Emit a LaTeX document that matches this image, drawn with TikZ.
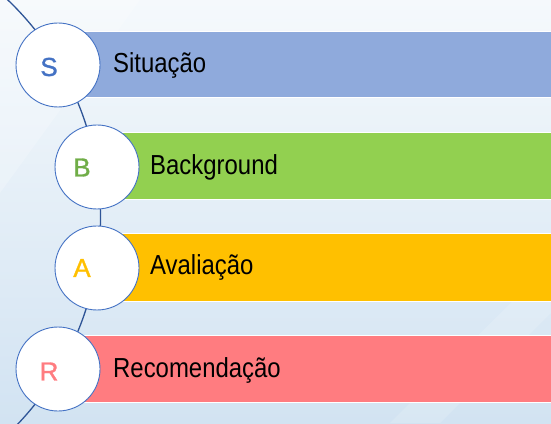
\documentclass[tikz,border=0pt]{standalone}
\usepackage{fontspec}
\setmainfont{Liberation Sans}
\newfontfamily\barfont[FakeStretch=0.87]{Liberation Sans}
\newfontfamily\letterfont[FakeBold=1.2]{Liberation Sans}
\definecolor{bgtop}{HTML}{F5F9FC}
\definecolor{bgbot}{HTML}{D2E3F2}
\definecolor{arcblue}{HTML}{2F5597}
\definecolor{ringblue}{HTML}{4472C4}
\definecolor{sbar}{HTML}{8FAADC}
\definecolor{bbar}{HTML}{92D050}
\definecolor{abar}{HTML}{FFC000}
\definecolor{rbar}{HTML}{FF7C80}
\definecolor{sletter}{HTML}{4472C4}
\definecolor{bletter}{HTML}{70AD47}
\definecolor{aletter}{HTML}{FFC000}
\definecolor{rletter}{HTML}{FF7C80}
\usetikzlibrary{calc}
\begin{document}
\begin{tikzpicture}[x=1pt,y=1pt,
  bar/.style={rectangle,draw=white,line width=1pt,inner sep=0pt,anchor=south west,minimum height=#1},
  ring/.style={circle,draw=ringblue,line width=0.9pt,fill=white,minimum size=84pt,inner sep=0pt},
  letter/.style={font=\letterfont\fontsize{26}{27}\selectfont,inner sep=0pt},
  label/.style={font=\barfont\fontsize{27.5}{28}\selectfont,anchor=base west,inner sep=0pt,text=black}]
\useasboundingbox (0,0) rectangle (551,423);
% background
\shade[top color=bgtop,bottom color=bgbot] (0,0) rectangle (551,423);
\fill[white,opacity=0.2] (0,423) -- (140,423) -- (0,230) -- cycle;
\fill[white,opacity=0.15] (390,0) -- (440,0) -- (551,110) -- (551,160) -- cycle;
% arc behind circles
\begin{scope}
\clip (0,0) rectangle (551,423);
\coordinate (arccenter) at (-200,206);
\draw[arcblue,line width=1.3pt] ($(arccenter)+(50:300.5)$) arc[start angle=50,end angle=-47,radius=300.5];
\end{scope}
% bars
\node[bar=66pt,fill=sbar,minimum width=500pt] (sb) at (58,325) {};
\node[bar=67pt,fill=bbar,minimum width=460pt] (bb) at (97,223) {};
\node[bar=68pt,fill=abar,minimum width=460pt] (ab) at (97,121) {};
\node[bar=67pt,fill=rbar,minimum width=500pt] (rb) at (58,20) {};
% circles
\node[ring] (sc) at (58,358) {};
\node[ring] (bc) at (97,256) {};
\node[ring] (ac) at (97,155) {};
\node[ring] (rc) at (58,54) {};
% letters
\node[letter,text=sletter] (sl) at (49,356) {S};
\node[letter,text=bletter] (bl) at (82,255.5) {B};
\node[letter,text=aletter] (al) at (82,155) {A};
\node[letter,text=rletter] (rl) at (49,51.5) {R};
% labels
\node[label] (st) at (113,350) {Situação};
\node[label] (bt) at (150,248) {Background};
\node[label] (at) at (150,148) {Avaliação};
\node[label] (rt) at (113,46) {Recomendação};
\end{tikzpicture}
\end{document}
